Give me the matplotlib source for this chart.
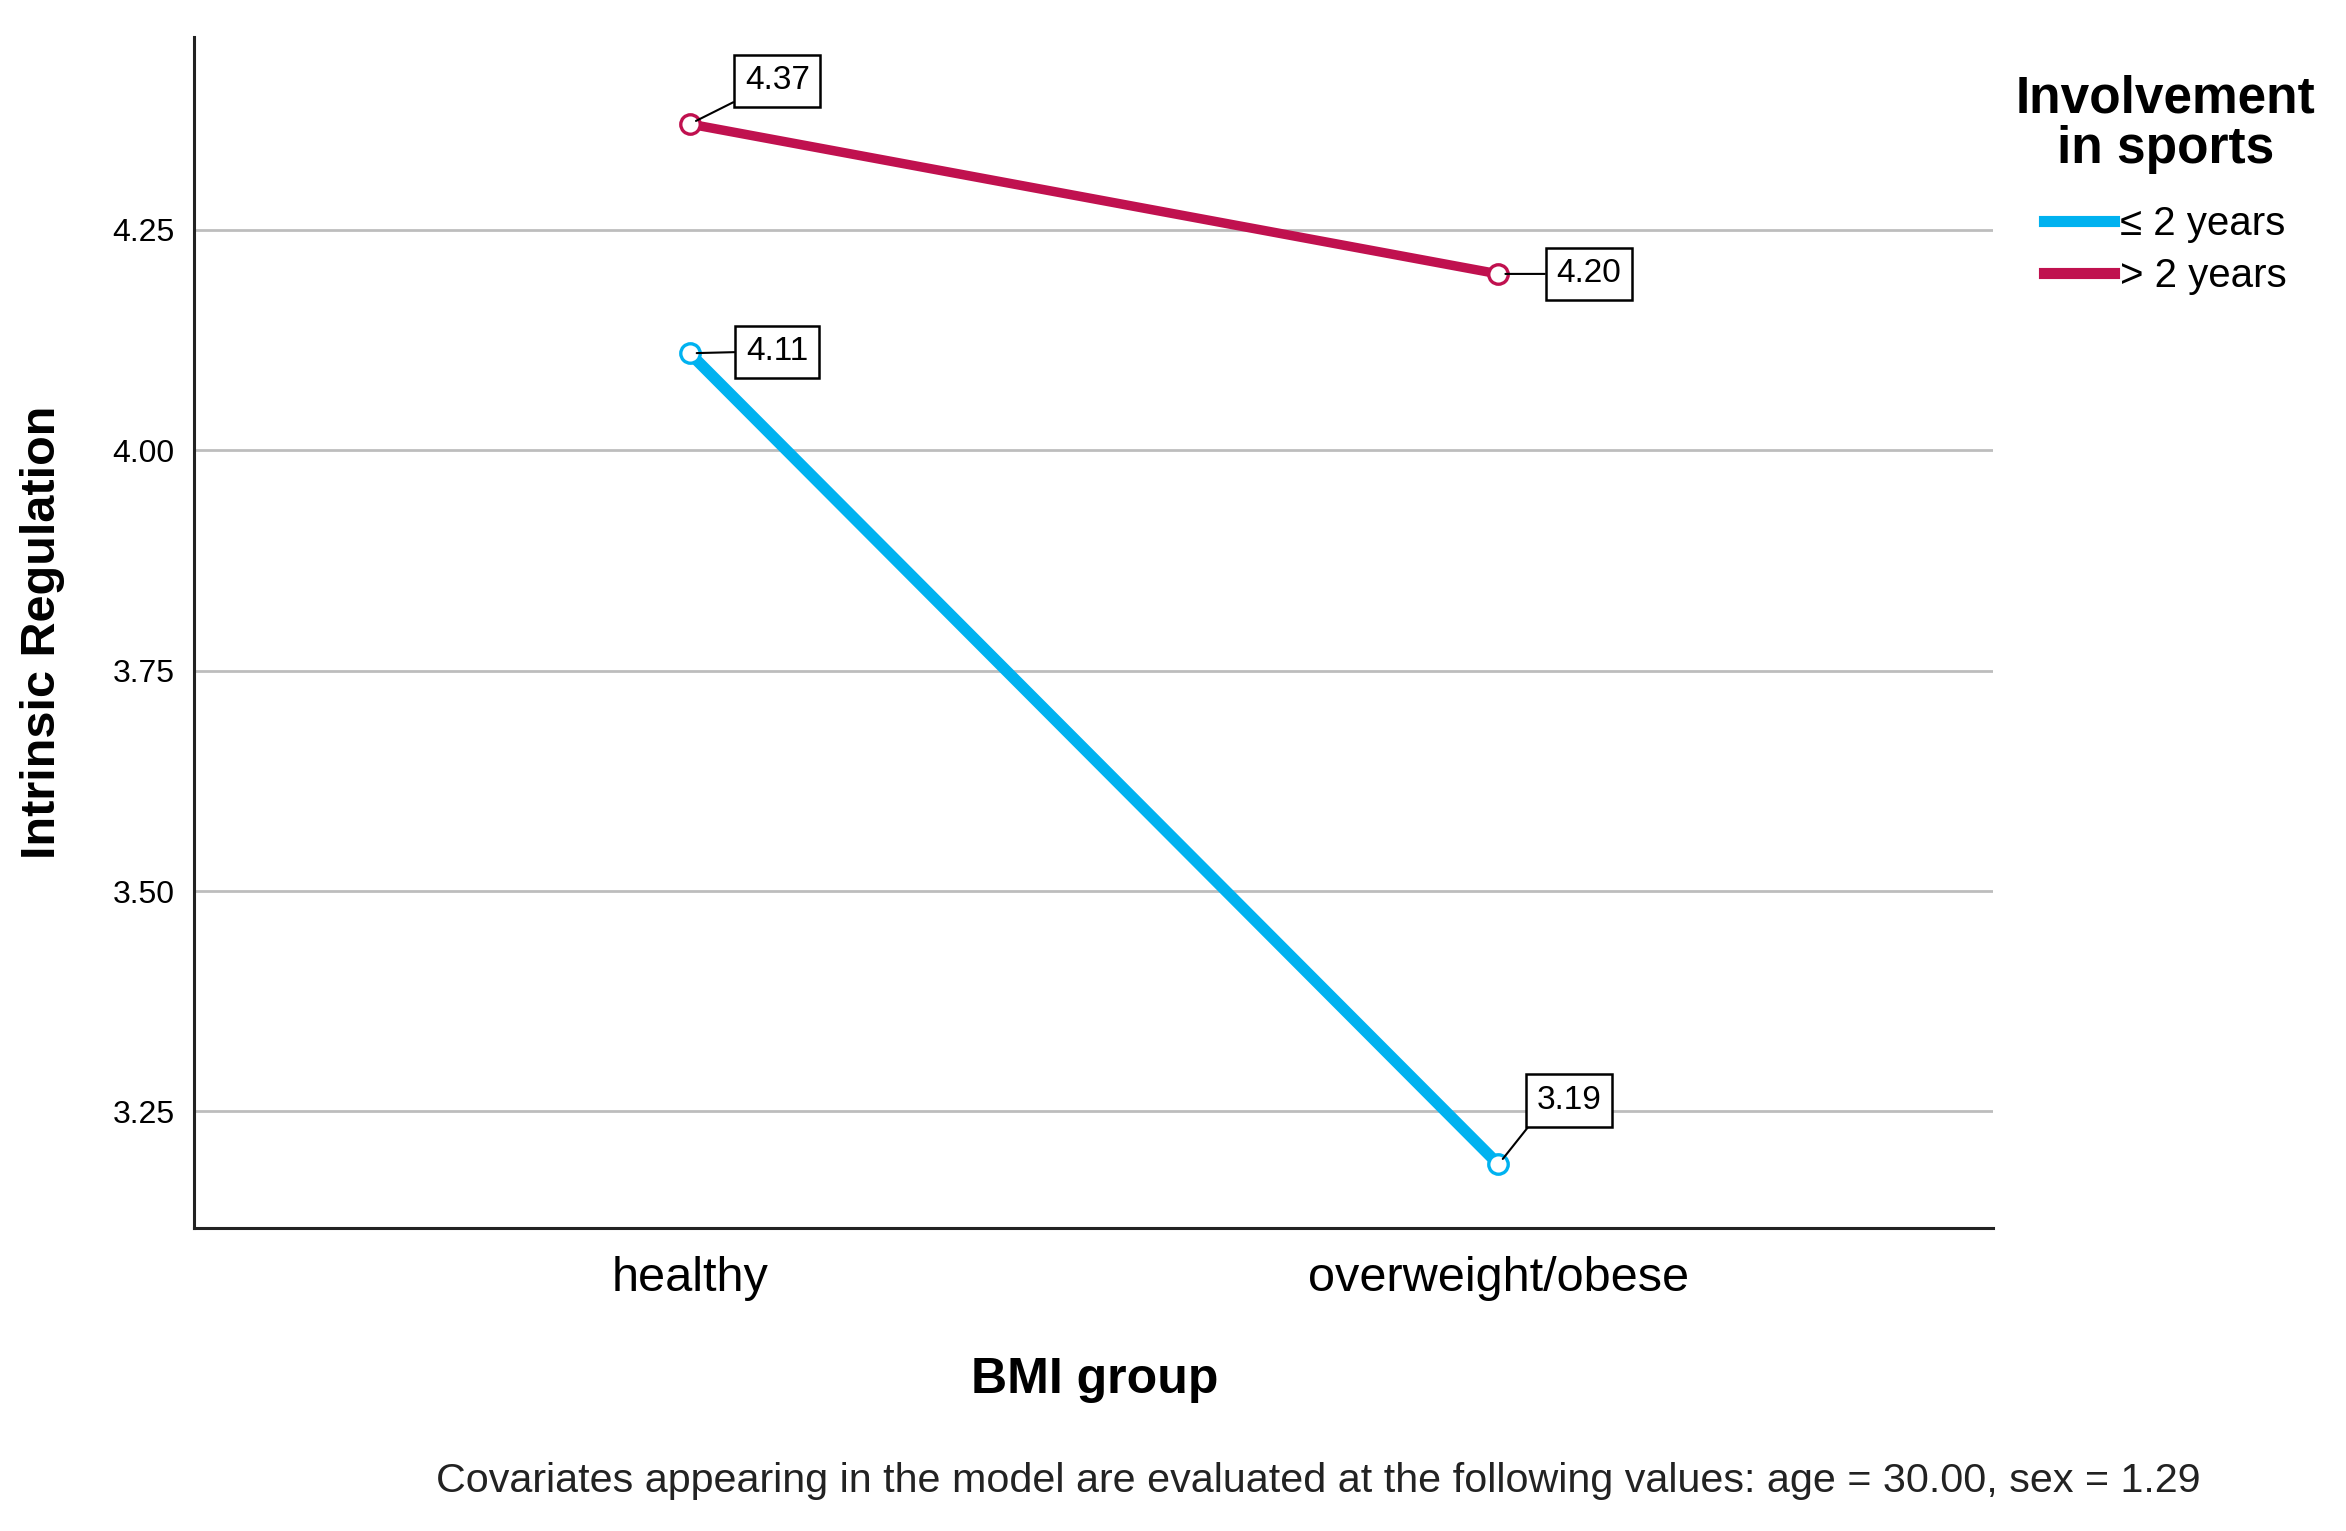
import matplotlib
matplotlib.use('Agg')
import matplotlib.pyplot as plt
from matplotlib.lines import Line2D

# data
groups = ['healthy', 'overweight/obese']
series_names = ['\u2264 2 years', '> 2 years']
low_years = [4.11, 3.19]
high_years = [4.37, 4.20]
yticks = [3.25, 3.50, 3.75, 4.00, 4.25]

blue = '#00b2f0'
crimson = '#c0114f'

plt.rcParams['font.family'] = ['Liberation Sans', 'DejaVu Sans']

fig = plt.figure(figsize=(23.46, 15.31), dpi=100)
ax = fig.add_axes([0.0827, 0.198, 0.767, 0.778])

x = range(len(groups))
ax.plot(x, low_years, color=blue, lw=8.2, solid_capstyle='butt', zorder=3)
ax.plot(x, high_years, color=crimson, lw=6.8, solid_capstyle='butt', zorder=3)
ax.plot(x, low_years, ls='none', marker='o', ms=14, mfc='white', mec=blue, mew=2.4, zorder=3.5)
ax.plot(x, high_years, ls='none', marker='o', ms=14, mfc='white', mec=crimson, mew=2.4, zorder=3.5)

ax.set_xlim(-0.613, 1.612)
ax.set_ylim(3.118, 4.469)
ax.set_yticks(yticks)
ax.set_yticklabels([f'{v:.2f}' for v in yticks], fontsize=23)
ax.set_xticks(list(x))
ax.set_xticklabels(groups, fontsize=35)
ax.tick_params(axis='y', length=0, pad=14)
ax.tick_params(axis='x', length=0, pad=20)
ax.grid(axis='y', color='#bdbdbd', lw=2.0)
ax.set_axisbelow(True)
for s in ['top', 'right']:
    ax.spines[s].set_visible(False)
for s in ['left', 'bottom']:
    ax.spines[s].set_linewidth(2.2)
    ax.spines[s].set_color('#222222')

ax.set_ylabel('Intrinsic Regulation', fontsize=35, fontweight='bold')
ax.yaxis.label.set_verticalalignment('center')
ax.yaxis.set_label_coords(-0.0844, 0.5)
ax.set_xlabel('BMI group', fontsize=36, fontweight='bold')
ax.xaxis.set_label_coords(0.5006, -0.128)
ax.xaxis.label.set_verticalalignment('center')

# value labels
labels = [
    (0, high_years[0], (63, 31), (0, 0)),
    (1, high_years[1], (65, 0), (0, 0.5)),
    (0, low_years[0], (63, 1), (0, 0.5)),
    (1, low_years[1], (51, 46), (0, 0)),
]
for xi, yi, off, rp in labels:
    ax.annotate(f'{yi:.2f}', (xi, yi), xytext=off, textcoords='offset points',
                ha='center', va='center', fontsize=24,
                bbox=dict(boxstyle='square,pad=0.32', fc='white', ec='black', lw=1.8),
                arrowprops=dict(arrowstyle='-', color='black', lw=1.5, relpos=rp,
                                shrinkA=0, shrinkB=5),
                zorder=4)

handles = [Line2D([], [], color=blue, lw=8), Line2D([], [], color=crimson, lw=8)]
leg = fig.legend(handles, series_names, loc='upper center', bbox_to_anchor=(0.923, 0.975),
                 frameon=False, fontsize=29, title='Involvement\nin sports',
                 handlelength=1.75, handletextpad=0.15, labelspacing=0.35)
leg.get_title().set_fontsize(37)
leg.get_title().set_fontweight('bold')
leg.get_title().set_multialignment('center')
leg.get_title().set_linespacing(1.05)
leg._legend_box.sep = 22

fig.text(0.562, 0.0327,
         'Covariates appearing in the model are evaluated at the following values: age = 30.00, sex = 1.29',
         ha='center', va='center', fontsize=29.7, color='#222222')

fig.savefig('out.png', dpi=100)
